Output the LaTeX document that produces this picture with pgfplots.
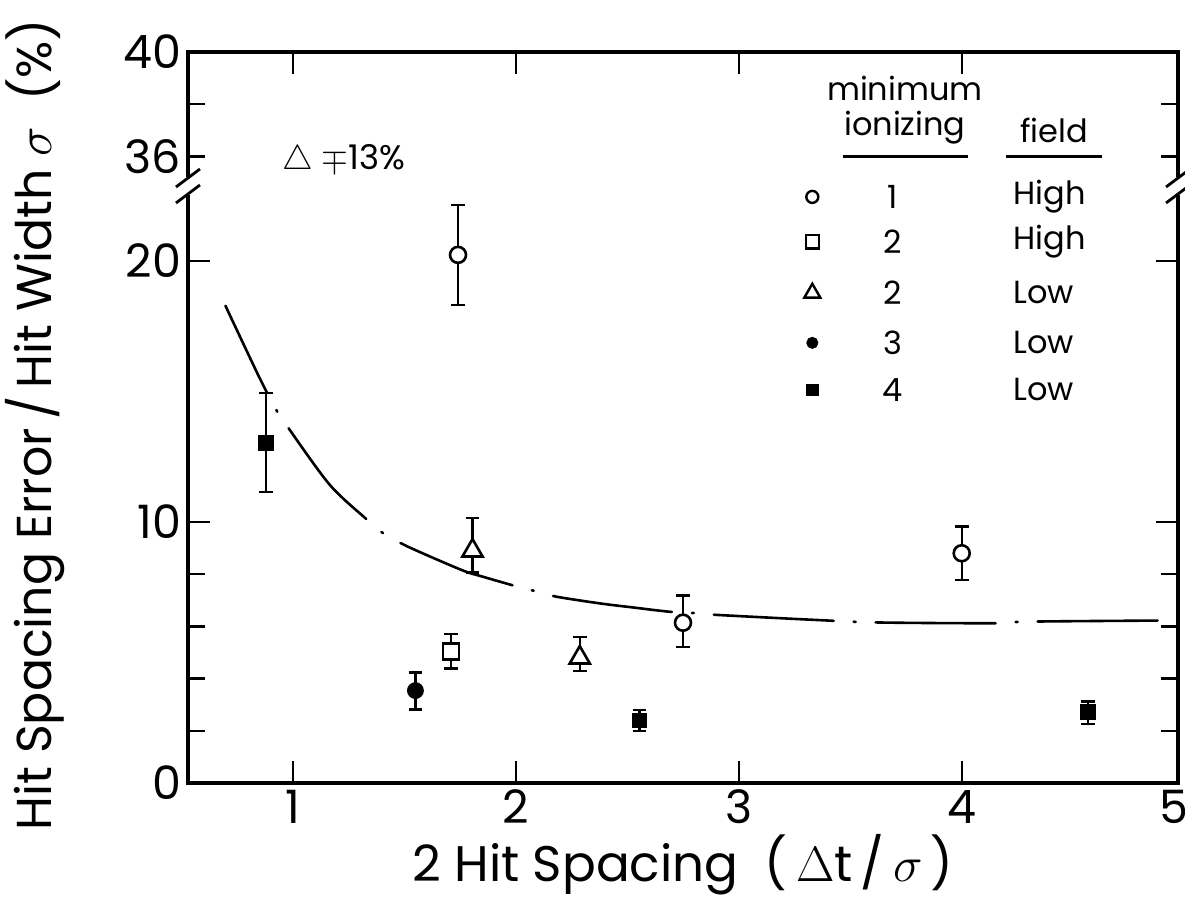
\documentclass[border=0pt]{standalone}
\usepackage{fontspec}
\setmainfont{Poppins}
\usepackage{pgfplots}
\pgfplotsset{compat=1.18}

% error-bar point series
\pgfplotsset{ebar/.style={only marks, black,
  error bars/y dir=both, error bars/y explicit,
  error bars/error bar style={line width=1.2pt},
  error bars/error mark options={rotate=90, mark size=3.4pt, line width=1.2pt}}}

\begin{document}
\begin{tikzpicture}
\path[use as bounding box] (-94pt,-67.5pt) rectangle (498.5pt,391.5pt);
\begin{axis}[
  at={(0,0)}, anchor=south west,
  scale only axis, width=495pt, height=365.5pt,
  xmin=0.53, xmax=4.97, ymin=0, ymax=28,
  clip=false,
  axis line style={line width=1.7pt},
  tick align=inside,
  xtick={1,2,3,4},
  ytick={0,10,20},
  minor ytick={2,4,6,8,26},
  extra y ticks={24,28}, extra y tick labels={36,40},
  extra y tick style={major tick length=8.5pt},
  major tick length=11pt, minor tick length=8.5pt,
  every tick/.style={black, line width=1.2pt},
  /pgf/number format/assume math mode=true,
  tick label style={font=\fontsize{23}{26}\selectfont},
  xlabel={2 Hit Spacing \ (\,$\Delta$t\,/\,$\sigma$\,)},
  ylabel={Hit Spacing Error\,/\,Hit Width $\sigma$ \ (\%)},
  xlabel style={at={(axis description cs:0.5,-0.112)}, anchor=center,
    font=\fontsize{25}{28}\selectfont},
  ylabel style={at={(axis description cs:-0.155,0.49)}, anchor=center,
    font=\fontsize{24.5}{28}\selectfont},
]

% fitted curve
\addplot[black, line width=1.3pt, smooth, line cap=round,
  dash pattern=on 60pt off 10pt on 1pt off 10pt, dash phase=12pt] coordinates {
  (0.698,18.28) (0.852,15.5) (0.93,14.23) (0.976,13.65) (1.166,11.42)
  (1.338,10.05) (1.405,9.57) (1.517,9.05) (1.757,8.16) (1.853,7.90)
  (2.033,7.46) (2.10,7.33) (2.18,7.14) (2.377,6.88) (2.53,6.72)
  (2.69,6.56) (2.825,6.50) (2.90,6.44) (3.336,6.25) (3.62,6.15)
  (4.14,6.12) (4.29,6.18) (4.84,6.22) (4.90,6.22)};

% 1 minimum ionizing, high field
\addplot[ebar, mark=*, mark size=4pt, mark options={fill=white, line width=1.3pt}]
  coordinates {
  (1.741,20.23) += (0,1.92) -= (0,1.92)
  (2.75,6.14) += (0,1.04) -= (0,0.94)
  (4.0,8.80) += (0,1.02) -= (0,1.02)};
% 2, high field
\addplot[ebar, mark=square*, mark size=4pt, mark options={fill=white, line width=1.3pt}]
  coordinates {
  (1.71,5.03) += (0,0.67) -= (0,0.64)};
% 2, low field
\addplot[ebar, mark=triangle*, mark size=5.8pt, mark options={fill=white, line width=1.3pt}]
  coordinates {
  (1.806,8.90) += (0,1.24) -= (0,0.84)
  (2.287,4.80) += (0,0.79) -= (0,0.50)};
% 3, low field
\addplot[ebar, mark=*, mark size=4pt, mark options={fill=black}]
  coordinates {
  (1.55,3.54) += (0,0.70) -= (0,0.72)};
% 4, low field
\addplot[ebar, mark=square*, mark size=3.6pt, mark options={fill=black}]
  coordinates {
  (0.879,13.02) += (0,1.91) -= (0,1.88)
  (2.555,2.40) += (0,0.40) -= (0,0.40)
  (4.566,2.73) += (0,0.39) -= (0,0.47)};

% key marks
\addplot[only marks, mark=*, mark size=3pt, mark options={fill=white, line width=1.2pt}]
  coordinates {(3.33,22.45)};
\addplot[only marks, mark=square*, mark size=3.3pt, mark options={fill=white, line width=1.2pt}]
  coordinates {(3.33,20.73)};
\addplot[only marks, mark=triangle*, mark size=4.6pt, mark options={fill=white, line width=1.2pt}]
  coordinates {(3.33,18.77)};
\addplot[only marks, mark=*, mark size=2.8pt, mark options={fill=black}]
  coordinates {(3.33,16.86)};
\addplot[only marks, mark=square*, mark size=2.8pt, mark options={fill=black}]
  coordinates {(3.33,15.06)};

% key text
\begin{scope}[every node/.style={font=\fontsize{16}{18}\selectfont, inner sep=0pt}]
\node at (axis cs:3.745,26.6) {minimum};
\node at (axis cs:3.745,25.1) {ionizing};
\node at (axis cs:4.415,25.0) {field};
\node at (axis cs:3.69,22.45) {1};
\node at (axis cs:3.69,20.73) {2};
\node at (axis cs:3.69,18.77) {2};
\node at (axis cs:3.69,16.86) {3};
\node at (axis cs:3.69,15.06) {4};
\node[anchor=west] at (axis cs:4.23,22.45) {High};
\node[anchor=west] at (axis cs:4.23,20.73) {High};
\node[anchor=west] at (axis cs:4.23,18.77) {Low};
\node[anchor=west] at (axis cs:4.23,16.86) {Low};
\node[anchor=west] at (axis cs:4.23,15.06) {Low};
\end{scope}
\draw[line width=1.2pt] (axis cs:3.466,24.0) -- (axis cs:4.027,24.0);
\draw[line width=1.2pt] (axis cs:4.20,24.0) -- (axis cs:4.63,24.0);

\node[anchor=west, inner sep=0pt, font=\fontsize{17}{19}\selectfont]
  at (axis cs:0.95,23.87) {$\triangle$\ $\mp$13\%};
\node[anchor=north, inner sep=0.333em, font=\fontsize{23}{26}\selectfont]
  at (axis cs:4.95,0) {5};
\end{axis}

% axis breaks
\foreach \bx in {0pt,495pt}{
  \fill[white] (\bx-3pt,294pt) rectangle (\bx+3pt,303pt);
  \draw[line width=1.4pt] (\bx-6pt,290pt) -- (\bx+6pt,299pt);
  \draw[line width=1.4pt] (\bx-6pt,298pt) -- (\bx+6pt,307pt);
}
\end{tikzpicture}
\end{document}
